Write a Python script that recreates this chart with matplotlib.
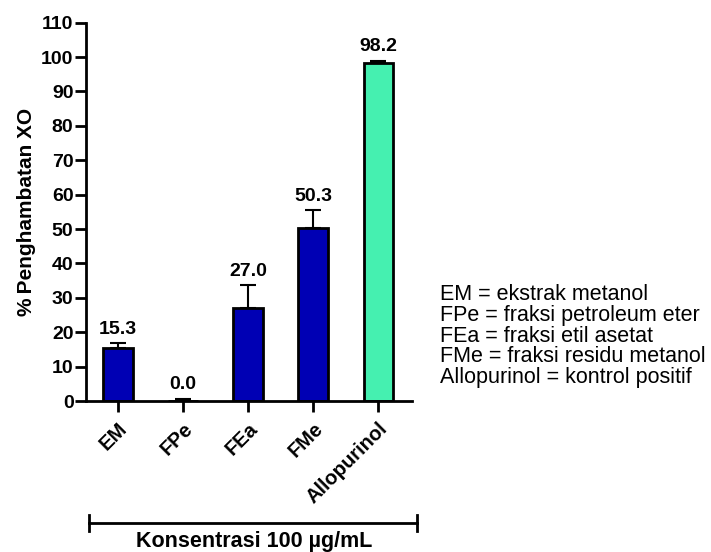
import numpy as np
import matplotlib.pyplot as plt
from matplotlib.lines import Line2D

plt.rcParams['font.family'] = ['Liberation Sans', 'DejaVu Sans']

# data
groups = ['EM', 'FPe', 'FEa', 'FMe', 'Allopurinol']
means = [15.3, 0.0, 27.0, 50.3, 98.2]
errs = [1.5, 0.7, 6.6, 5.2, 0.8]
bar_colors = ['#0000B4', '#0000B4', '#0000B4', '#0000B4', '#45F0B0']
notes = ['EM = ekstrak metanol',
         'FPe = fraksi petroleum eter',
         'FEa = fraksi etil asetat',
         'FMe = fraksi residu metanol',
         'Allopurinol = kontrol positif']

W, H = 711, 552
fig = plt.figure(figsize=(W / 100, H / 100), dpi=100)
ax = fig.add_axes([86 / W, 1 - 401 / H, (412 - 86) / W, (401 - 22.7) / H])

x = np.arange(len(groups))
ax.bar(x, means, width=0.45, color=bar_colors, edgecolor='black', linewidth=2, zorder=2)
# only upper error bars
ax.errorbar(x, means, yerr=[np.zeros(len(errs)), errs], fmt='none', ecolor='black',
            elinewidth=1.5, capsize=6, capthick=1.5, zorder=1)

for xi, m, e in zip(x, means, errs):
    ax.text(xi, m + e + 1.5, f'{m:.1f}', ha='center', va='bottom',
            fontsize=14, fontweight='bold')

ax.set_xlim(-0.49, 4.52)
ax.set_ylim(0, 110)
ax.set_yticks(np.arange(0, 111, 10))
ax.set_xticks(x)
ax.set_xticklabels(groups, rotation=45, ha='right', rotation_mode='anchor',
                   fontsize=14.5, fontweight='bold')
for lab in ax.get_yticklabels():
    lab.set_fontweight('bold')
    lab.set_fontsize(14)
ax.tick_params(axis='both', direction='out', width=2, length=8, pad=1)
ax.tick_params(axis='x', pad=5)
ax.spines['top'].set_visible(False)
ax.spines['right'].set_visible(False)
ax.spines['left'].set_linewidth(2)
ax.spines['bottom'].set_linewidth(2)
ax.set_ylabel('%\u2009Penghambatan XO', fontsize=15, fontweight='bold', labelpad=4)

# bracket under the categories
y_br = 1 - 523 / H
fig.add_artist(Line2D([89 / W, 417 / W], [y_br, y_br], color='black', lw=2))
for xb in (89 / W, 417 / W):
    fig.add_artist(Line2D([xb, xb], [y_br - 8 / H, y_br + 8 / H], color='black', lw=2))
fig.text(254 / W, 1 - 542 / H, 'Konsentrasi 100 \u00b5g/mL', ha='center', va='center',
         fontsize=15.5, fontweight='bold')

for i, t in enumerate(notes):
    fig.text(440 / W, 1 - (295 + 20.5 * i) / H, t, ha='left', va='center', fontsize=15.5)

fig.savefig('out.png', dpi=100)
